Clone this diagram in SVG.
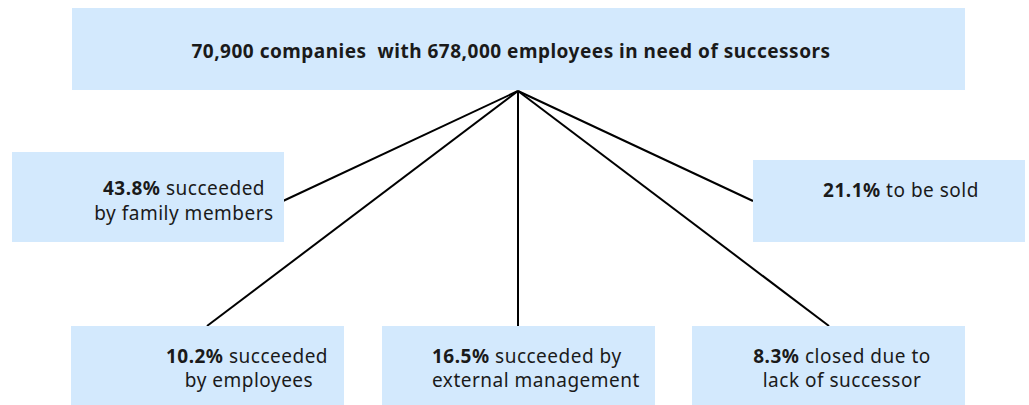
<svg xmlns="http://www.w3.org/2000/svg" width="1029" height="405" viewBox="0 0 1029 405">
  <style>
    .box { fill: #d3e9fd; }
    .lbl { font-family: "Noto Sans", "DejaVu Sans", sans-serif; font-size: 19px; fill: #1a1a1a; letter-spacing: 0.5px; }
    .c { text-anchor: middle; }
    .b { font-weight: bold; }
    .link { stroke: #000; stroke-width: 2; fill: none; }
  </style>
  <rect width="1029" height="405" fill="#fff"/>

  <g id="connectors">
    <line class="link" x1="518" y1="91" x2="283" y2="201"/>
    <line class="link" x1="518" y1="91" x2="207" y2="326"/>
    <line class="link" x1="518" y1="91" x2="518" y2="326"/>
    <line class="link" x1="518" y1="91" x2="829" y2="326"/>
    <line class="link" x1="518" y1="91" x2="753" y2="201"/>
  </g>

  <g id="total">
    <rect class="box" x="72" y="8" width="893" height="82"/>
    <text class="lbl b c" x="511" y="58" xml:space="preserve">70,900 companies  with 678,000 employees in need of successors</text>
  </g>

  <g id="family">
    <rect class="box" x="12" y="152" width="272" height="90"/>
    <text class="lbl c" x="184" y="195"><tspan class="b">43.8%</tspan> succeeded</text>
    <text class="lbl c" x="184" y="220">by family members</text>
  </g>

  <g id="sold">
    <rect class="box" x="753" y="160" width="272" height="82"/>
    <text class="lbl c" x="901" y="197"><tspan class="b">21.1%</tspan> to be sold</text>
  </g>

  <g id="employees">
    <rect class="box" x="71" y="326" width="273" height="79"/>
    <text class="lbl c" x="247" y="363"><tspan class="b">10.2%</tspan> succeeded</text>
    <text class="lbl c" x="249" y="387">by employees</text>
  </g>

  <g id="external">
    <rect class="box" x="382" y="326" width="273" height="79"/>
    <text class="lbl" x="432" y="363"><tspan class="b">16.5%</tspan> succeeded by</text>
    <text class="lbl" x="432" y="387">external management</text>
  </g>

  <g id="closed">
    <rect class="box" x="692" y="326" width="273" height="79"/>
    <text class="lbl c" x="842" y="363"><tspan class="b">8.3%</tspan> closed due to</text>
    <text class="lbl c" x="842" y="387">lack of successor</text>
  </g>
</svg>
